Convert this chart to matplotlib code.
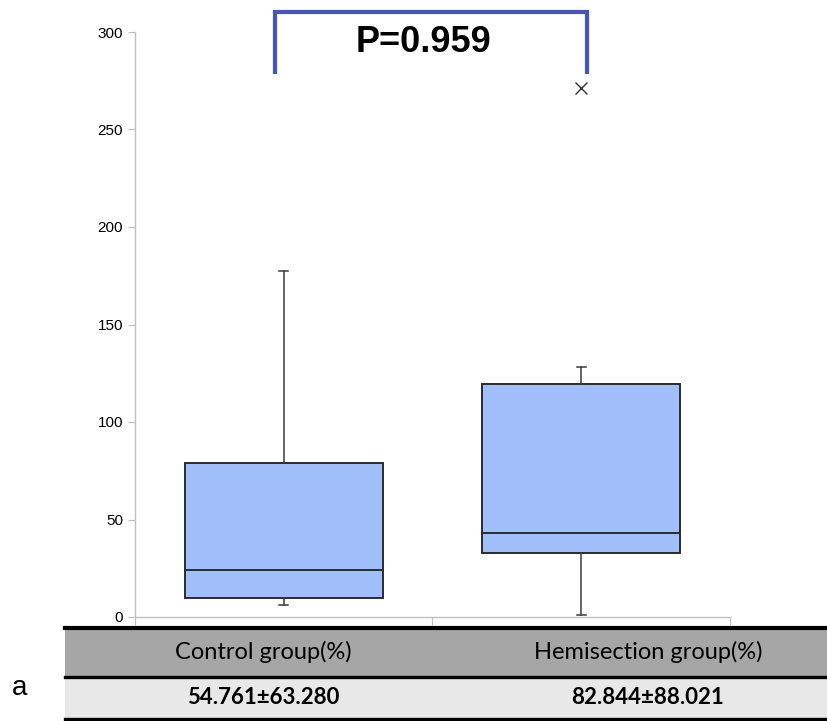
import matplotlib.pyplot as plt
from matplotlib.lines import Line2D
from matplotlib.patches import Rectangle

# values
groups = ['Control group(%)', 'Hemisection group(%)']
mean_sd = ['54.761±63.280', '82.844±88.021']
q1 = [9.6, 33.0]
median = [24.1, 43.1]
q3 = [79.0, 119.5]
whisker_low = [6.2, 1.0]
whisker_high = [177.4, 128.4]
outliers = [[], [271.3]]
p_text = 'P=0.959'

fig = plt.figure(figsize=(8.28, 7.21), dpi=100)
ax = fig.add_axes([135 / 828, 1 - 617 / 721, 595 / 828, 585 / 721])

stats = []
for i in range(len(groups)):
    stats.append({'q1': q1[i], 'med': median[i], 'q3': q3[i],
                  'whislo': whisker_low[i], 'whishi': whisker_high[i],
                  'fliers': outliers[i]})

ax.bxp(stats, positions=[1, 2], widths=0.667, capwidths=0.03,
       patch_artist=True, showfliers=True,
       boxprops=dict(facecolor='#A0BEFA', edgecolor='#2b2b2b', linewidth=1.4),
       medianprops=dict(color='#2b2b2b', linewidth=1.4),
       whiskerprops=dict(color='#3a3a3a', linewidth=1.1),
       capprops=dict(color='#3a3a3a', linewidth=1.1),
       flierprops=dict(marker='x', markersize=8, markeredgecolor='#333333',
                       markeredgewidth=1.0))

ax.set_xlim(0.5, 2.5)
ax.set_ylim(0, 300)
ax.set_yticks(range(0, 301, 50))
ax.set_xticks([0.5, 1.5, 2.5])
ax.set_xticklabels([])
for s in ['top', 'right']:
    ax.spines[s].set_visible(False)
for s in ['left', 'bottom']:
    ax.spines[s].set_color('#BFBFBF')
    ax.spines[s].set_linewidth(1.0)
ax.tick_params(axis='y', colors='#BFBFBF', labelcolor='black', labelsize=11, length=5)
ax.tick_params(axis='x', colors='#BFBFBF', length=6)
for lbl in ax.get_yticklabels():
    lbl.set_fontfamily('Liberation Sans')

# significance bracket
bx0, bx1 = 0.971, 2.019
ax.plot([bx0, bx0, bx1, bx1], [279.5, 310.3, 310.3, 279.5], color='#4455BB',
        linewidth=3, clip_on=False, solid_joinstyle='miter')
ax.text(1.47, 294.5, p_text, ha='center', va='center', fontsize=26,
        fontweight='bold', family='Liberation Sans', clip_on=False)

# table under the chart (figure coordinates, pixels from top)
def fy(py):
    return 1 - py / 721

x0, x1 = 65 / 828, 1.0
fig.add_artist(Rectangle((x0, fy(677)), x1 - x0, fy(628) - fy(677),
                         transform=fig.transFigure, facecolor='#A6A6A6', edgecolor='none'))
fig.add_artist(Rectangle((x0, fy(719)), x1 - x0, fy(677) - fy(719),
                         transform=fig.transFigure, facecolor='#E8E8E8', edgecolor='none'))
for py, lw in [(628, 3.0), (677, 2.4), (719, 2.4)]:
    fig.add_artist(Line2D([x0, x1], [fy(py), fy(py)], transform=fig.transFigure,
                          color='black', linewidth=lw))

centers = [263 / 828, 648 / 828]
for i in range(len(groups)):
    fig.text(centers[i], fy(652), groups[i], ha='center', va='center',
             fontsize=17, family='Lato')
    fig.text(centers[i], fy(698), mean_sd[i], ha='center', va='center',
             fontsize=16, fontweight='bold', family='Lato')

fig.text(20 / 828, fy(688), 'a', ha='center', va='center', fontsize=20,
         family='Liberation Sans')

fig.savefig('out.png', dpi=100)
